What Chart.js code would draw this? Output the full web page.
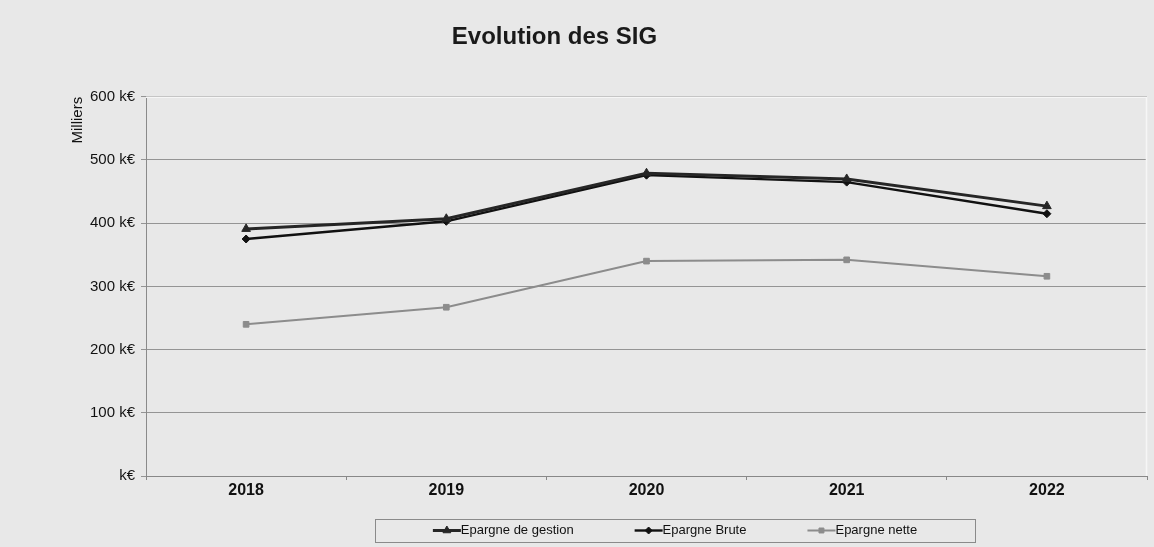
<!DOCTYPE html>
<html lang="fr">
<head>
<meta charset="utf-8">
<title>Evolution des SIG</title>
<script src="https://cdn.jsdelivr.net/npm/chart.js@4.4.1/dist/chart.umd.min.js"></script>
<style>
  html, body { margin: 0; padding: 0; background: #e8e8e8; }
  #cadre { width: 1154px; height: 547px; position: relative; }
</style>
</head>
<body>
<div id="cadre"><canvas id="sig"></canvas></div>
<script>
/* Soldes intermédiaires de gestion, en milliers d'euros. */
const annees = ['2018', '2019', '2020', '2021', '2022'];
const epargneGestion = [391, 407, 479, 470, 427];
const epargneBrute   = [375, 403, 476, 465, 415];
const epargneNette   = [240, 267, 340, 342, 316];

// Graduations de l'axe vertical (le zéro n'affiche que l'unité)
const etiquettesY = ['k€', '100 k€', '200 k€', '300 k€', '400 k€', '500 k€', '600 k€'];

const POLICE = '"Liberation Sans", Arial, Helvetica, sans-serif';
const GRIS_GRILLE = '#949494';

const series = [
  { label: 'Epargne de gestion', data: epargneGestion, couleur: '#262626', epaisseur: 3,   style: 'triangle', rayon: 5 },
  { label: 'Epargne Brute',      data: epargneBrute,   couleur: '#111111', epaisseur: 2.4, style: 'rectRot',  rayon: 4 },
  { label: 'Epargne nette',      data: epargneNette,   couleur: '#8c8c8c', epaisseur: 2,   style: 'rect',     rayon: 4 },
];

/* Le titre n'est pas centré sur la zone utile : on le décale une fois la
 * mise en page calculée. */
const DECALAGE_TITRE = -50;

const decalageTitre = {
  id: 'decalageTitre',
  afterLayout(chart) {
    const t = chart.titleBlock;
    if (t) { t.left += DECALAGE_TITRE; t.right += DECALAGE_TITRE; }
  },
};

// Liseré clair en haut et à droite de la zone de tracé
const zoneTrace = {
  id: 'zoneTrace',
  beforeDatasetsDraw(chart) {
    const { ctx, chartArea: a } = chart;
    ctx.save();
    ctx.strokeStyle = '#f6f6f6';
    ctx.lineWidth = 1.5;
    ctx.beginPath();
    ctx.moveTo(a.left, a.top + 0.5);
    ctx.lineTo(a.right - 0.5, a.top + 0.5);
    ctx.lineTo(a.right - 0.5, a.bottom);
    ctx.stroke();
    ctx.restore();
  },
};

/* Légende encadrée façon tableur : trait + marqueur, puis le libellé.
 * Dessinée à la main car Chart.js n'a qu'un seul "padding" pour
 * l'espacement horizontal et la hauteur. */
const LEGENDE = { centre: 675, haut: 519, largeur: 600, hauteur: 23, trait: 28, ecart: 61 };

const legendeEncadree = {
  id: 'legendeEncadree',
  afterDraw(chart) {
    const ctx = chart.ctx;
    const L = LEGENDE;
    ctx.save();
    ctx.font = '13px ' + POLICE;
    const largeurs = series.map((s) => ctx.measureText(s.label).width);
    const total = largeurs.reduce((a, b) => a + b, 0) + series.length * L.trait + (series.length - 1) * L.ecart;
    let x = L.centre - total / 2;
    const y = L.haut + L.hauteur / 2;

    ctx.strokeStyle = '#8a8a8a';
    ctx.lineWidth = 1;
    ctx.strokeRect(Math.round(L.centre - L.largeur / 2) + 0.5, L.haut + 0.5, L.largeur, L.hauteur);

    series.forEach((s, i) => {
      ctx.strokeStyle = s.couleur;
      ctx.fillStyle = s.couleur;
      ctx.lineWidth = s.epaisseur;
      ctx.beginPath();
      ctx.moveTo(x, y);
      ctx.lineTo(x + L.trait, y);
      ctx.stroke();
      ctx.lineWidth = 1;
      Chart.helpers.drawPoint(ctx, { pointStyle: s.style, radius: s.rayon - 0.5, borderWidth: 1, rotation: 0 }, x + L.trait / 2, y);
      x += L.trait;
      ctx.fillStyle = '#111';
      ctx.textBaseline = 'middle';
      ctx.textAlign = 'left';
      ctx.fillText(s.label, x, y);
      x += largeurs[i] + L.ecart;
    });
    ctx.restore();
  },
};

new Chart(document.getElementById('sig'), {
  type: 'line',
  data: {
    labels: annees,
    datasets: series.map((s) => ({
      label: s.label,
      data: s.data,
      borderColor: s.couleur,
      backgroundColor: s.couleur,
      borderWidth: s.epaisseur,
      pointStyle: s.style,
      pointRadius: s.rayon,
      pointBorderWidth: 1,
      tension: 0,
      fill: false,
    })),
  },
  options: {
    responsive: true,
    maintainAspectRatio: false,
    animation: false,
    devicePixelRatio: 1,
    layout: { padding: { left: 62, right: 7, top: 0, bottom: 33 } },
    plugins: {
      title: {
        display: true,
        text: 'Evolution des SIG',
        color: '#1a1a1a',
        font: { family: POLICE, size: 24, weight: 'bold' },
        padding: { top: 23, bottom: 45 },
      },
      legend: { display: false },
      tooltip: { enabled: false },
    },
    scales: {
      x: {
        offset: true,
        grid: { display: true, offset: true, drawOnChartArea: false, tickLength: 4, color: '#888' },
        border: { color: '#888' },
        ticks: { color: '#111', padding: 1, font: { family: POLICE, size: 16, weight: 'bold' } },
        afterFit(scale) { scale.height = 38; },
      },
      y: {
        min: 0,
        max: 600,
        ticks: {
          stepSize: 100,
          color: '#111',
          padding: 6,
          font: { family: POLICE, size: 15 },
          callback: (v, i) => etiquettesY[i],
        },
        grid: { color: GRIS_GRILLE, tickLength: 5 },
        border: { color: '#8a8a8a' },
        title: {
          display: true,
          text: 'Milliers',
          align: 'end',
          color: '#111',
          font: { family: POLICE, size: 15 },
          padding: { top: 7, bottom: 0 },
        },
        afterFit(scale) { scale.width = 84; },
      },
    },
  },
  plugins: [decalageTitre, zoneTrace, legendeEncadree],
});
</script>
</body>
</html>
